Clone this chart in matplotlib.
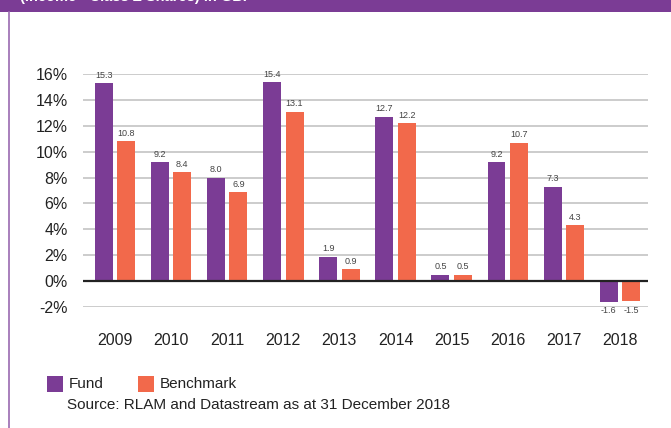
import matplotlib
matplotlib.use("Agg")
import matplotlib.pyplot as plt
from matplotlib.patches import Rectangle
from matplotlib.lines import Line2D
import numpy as np

years = ["2009", "2010", "2011", "2012", "2013", "2014", "2015", "2016", "2017", "2018"]
fund = [15.3, 9.2, 8.0, 15.4, 1.9, 12.7, 0.5, 9.2, 7.3, -1.6]
benchmark = [10.8, 8.4, 6.9, 13.1, 0.9, 12.2, 0.5, 10.7, 4.3, -1.5]
yticks = [-2, 0, 2, 4, 6, 8, 10, 12, 14, 16]

plt.rcParams["font.family"] = ["Liberation Sans", "DejaVu Sans"]

PURPLE = "#7B3C95"
ORANGE = "#F2694B"
W, H = 671, 428

fig = plt.figure(figsize=(W / 100, H / 100), dpi=100)
fig.patch.set_facecolor("white")

# banner
fig.patches.append(Rectangle((0, 1 - 12 / H), 1, 12 / H, transform=fig.transFigure,
                             facecolor=PURPLE, edgecolor="none", zorder=0))
fig.text(20 / W, 1 - 4 / H, "(Income - Class Z Shares) in GBP", color="white",
         fontsize=10.5, fontweight="bold", va="bottom", ha="left")
# left border
fig.lines.append(Line2D([8.5 / W, 8.5 / W], [0, 1 - 12 / H], transform=fig.transFigure,
                        color="#9A6AB0", lw=1.2))

left, right = 83 / W, 648 / W
bottom, top = 1 - 307 / H, 1 - 74 / H
ax = fig.add_axes([left, bottom, right - left, top - bottom])

x = np.arange(len(years))
bw = 0.32
off = 0.2
ax.bar(x - off, fund, bw, color=PURPLE, zorder=3)
ax.bar(x + off, benchmark, bw, color=ORANGE, zorder=3)

def label(xs, vals):
    for xi, v in zip(xs, vals):
        if v >= 0:
            ax.text(xi, v + 0.25, f"{v:.1f}", ha="center", va="bottom", fontsize=6.5,
                    color="#444444", zorder=4)
        else:
            ax.text(xi, -1.95, f"{v:.1f}", ha="center", va="top", fontsize=6.5,
                    color="#444444", zorder=4)

label(x - off, fund)
label(x + off, benchmark)

ax.set_xlim(-0.57, 9.5)
ax.set_ylim(-2, 16)
ax.set_yticks(yticks)
ax.set_yticklabels([f"{t}%" for t in yticks], fontsize=11.5, color="#222222")
ax.set_xticks(x)
ax.set_xticklabels(years, fontsize=11.5, color="#222222")
ax.tick_params(axis="both", length=0)
ax.tick_params(axis="y", pad=11)
ax.tick_params(axis="x", pad=19)
for t in yticks:
    if t != 0:
        ax.axhline(t, color="#C8C8C8", lw=1.3, zorder=1)
ax.axhline(0, color="#222222", lw=1.6, zorder=4)
for s in ax.spines.values():
    s.set_visible(False)

# legend
fig.patches.append(Rectangle((47 / W, 1 - 392 / H), 16 / W, 16 / H, transform=fig.transFigure,
                             facecolor=PURPLE, edgecolor="none"))
fig.text(69 / W, 1 - 384 / H, "Fund", fontsize=11, va="center", ha="left", color="#222222")
fig.patches.append(Rectangle((138 / W, 1 - 392 / H), 16 / W, 16 / H, transform=fig.transFigure,
                             facecolor=ORANGE, edgecolor="none"))
fig.text(160 / W, 1 - 384 / H, "Benchmark", fontsize=11, va="center", ha="left", color="#222222")
fig.text(67 / W, 1 - 405 / H, "Source: RLAM and Datastream as at 31 December 2018", fontsize=11,
         va="center", ha="left", color="#222222")

fig.savefig("out.png", dpi=100)
